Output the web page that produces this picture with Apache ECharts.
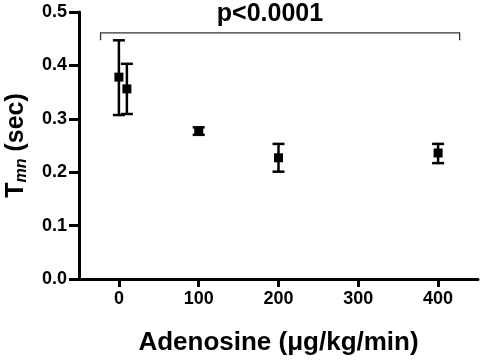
<!DOCTYPE html>
<html>
<head>
<meta charset="utf-8">
<script src="https://cdn.jsdelivr.net/npm/echarts@6/dist/echarts.min.js"></script>
<style>
  html, body { margin: 0; padding: 0; background: #fff; }
  #chart { width: 485px; height: 364px; }
</style>
</head>
<body>
<div id="chart"></div>
<script>
// adenosine dose (x) and Tmn mean / error limits
var doses = [0, 10, 100, 200, 400];
var means = [0.378, 0.356, 0.277, 0.227, 0.236];
var upper = [0.447, 0.403, 0.284, 0.253, 0.253];
var lower = [0.307, 0.309, 0.270, 0.201, 0.217];
var xTicks = [0, 100, 200, 300, 400];
// significance bracket: start/end dose, level / end drop, label
var bracketX = [-23, 427];
var bracketY = [0.461, 0.447];
var pLabel = 'p<0.0001';

var font = 'Liberation Sans, Arial, sans-serif';
var chart = echarts.init(document.getElementById('chart'));

var points = doses.map(function (d, i) { return [d, means[i]]; });
var bars = doses.map(function (d, i) { return [d, lower[i], upper[i]]; });

var option = {
    animation: false,
    grid: { left: 79, right: 7, top: 12, bottom: 85, outerBoundsMode: 'none', containLabel: false },
    xAxis: {
        type: 'value',
        min: -50,
        max: 450,
        name: 'Adenosine (\u03bcg/kg/min)',
        nameLocation: 'middle',
        nameGap: 51,
        nameTextStyle: { fontFamily: font, fontWeight: 'bold', fontSize: 26, color: '#000' },
        axisLine: { onZero: false, lineStyle: { color: '#000', width: 3 } },
        axisTick: { customValues: xTicks, length: 8, lineStyle: { color: '#000', width: 3 } },
        axisLabel: { customValues: xTicks, margin: 11, fontFamily: font, fontWeight: 'bold', fontSize: 18, color: '#000' },
        splitLine: { show: false }
    },
    yAxis: {
        type: 'value',
        min: 0,
        max: 0.5,
        interval: 0.1,
        name: '{t|T}{s|mn}{t| (sec)}',
        nameLocation: 'middle',
        nameRotate: 90,
        nameGap: 49,
        nameTextStyle: {
            rich: {
                t: { fontFamily: font, fontWeight: 'bold', fontSize: 25, color: '#000', lineHeight: 28 },
                s: { fontFamily: font, fontWeight: 'bold', fontStyle: 'italic', fontSize: 16, color: '#000', lineHeight: 14, verticalAlign: 'bottom' }
            }
        },
        axisLine: { show: true, onZero: false, lineStyle: { color: '#000', width: 3 } },
        axisTick: { show: true, length: 10, lineStyle: { color: '#000', width: 3 } },
        axisLabel: {
            margin: 12, fontFamily: font, fontWeight: 'bold', fontSize: 18, color: '#000',
            formatter: function (v) { return v.toFixed(1); }
        },
        splitLine: { show: false }
    },
    series: [
        {
            type: 'custom',
            data: bars,
            z: 3,
            renderItem: function (params, api) {
                var lo = api.coord([api.value(0), api.value(1)]);
                var hi = api.coord([api.value(0), api.value(2)]);
                var w = 6;
                var st = { stroke: '#000', lineWidth: 2.5 };
                return {
                    type: 'group',
                    children: [
                        { type: 'line', shape: { x1: lo[0], y1: lo[1], x2: hi[0], y2: hi[1] }, style: st },
                        { type: 'line', shape: { x1: lo[0] - w, y1: lo[1], x2: lo[0] + w, y2: lo[1] }, style: st },
                        { type: 'line', shape: { x1: hi[0] - w, y1: hi[1], x2: hi[0] + w, y2: hi[1] }, style: st }
                    ]
                };
            }
        },
        {
            type: 'scatter',
            data: points,
            symbol: 'rect',
            symbolSize: 9,
            z: 4,
            itemStyle: { color: '#000', opacity: 1 }
        },
        {
            type: 'custom',
            data: [[bracketX[0], bracketX[1], bracketY[0], bracketY[1]]],
            z: 5,
            renderItem: function (params, api) {
                var a = api.coord([api.value(0), api.value(3)]);
                var b = api.coord([api.value(0), api.value(2)]);
                var c = api.coord([api.value(1), api.value(2)]);
                var d = api.coord([api.value(1), api.value(3)]);
                return {
                    type: 'group',
                    children: [
                        {
                            type: 'polyline',
                            shape: { points: [a, b, c, d] },
                            style: { stroke: '#333', lineWidth: 1.3, fill: null }
                        },
                        {
                            type: 'text',
                            x: 270,
                            y: b[1] - 6,
                            style: {
                                text: pLabel, fontFamily: font, fontWeight: 'bold', fontSize: 25,
                                fill: '#000', align: 'center', verticalAlign: 'bottom'
                            }
                        }
                    ]
                };
            }
        }
    ]
};
chart.setOption(option);
</script>
</body>
</html>
